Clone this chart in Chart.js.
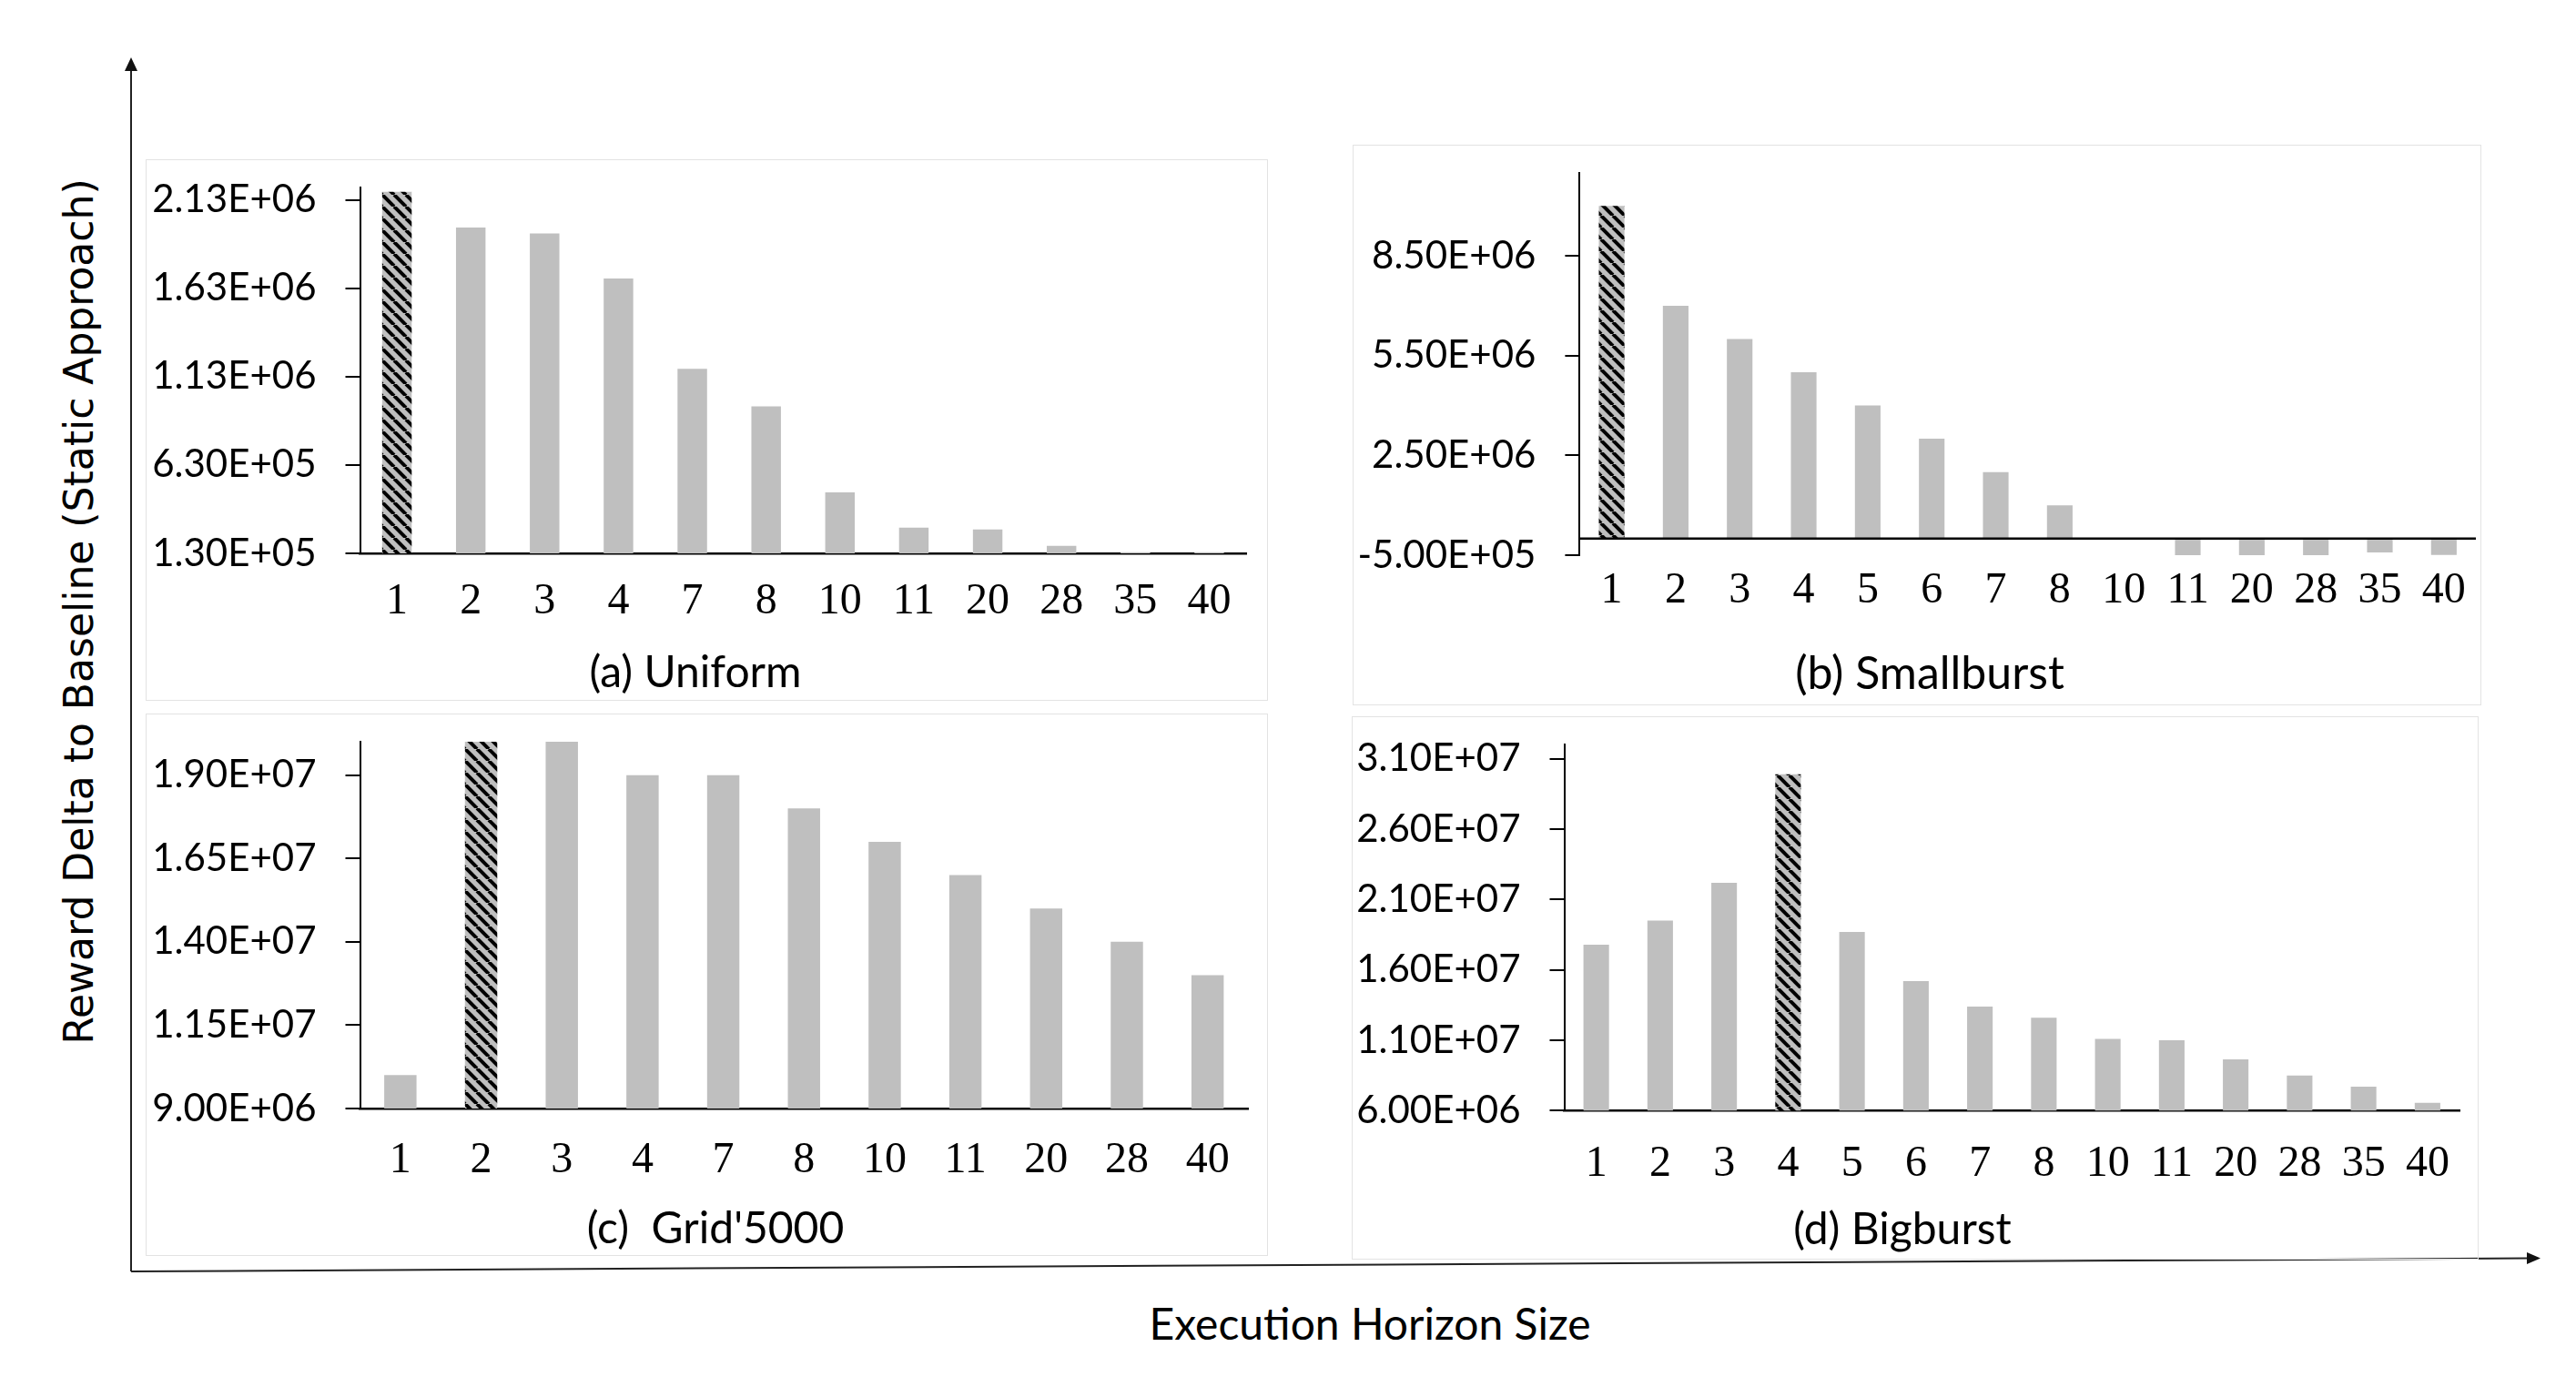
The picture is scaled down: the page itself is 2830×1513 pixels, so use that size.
<!DOCTYPE html>
<html>
<head>
<meta charset="utf-8">
<script src="https://cdn.jsdelivr.net/npm/chart.js@4.4.1/dist/chart.umd.min.js"></script>
<style>
  html, body { margin: 0; padding: 0; background: #fff; }
  body { width: 2830px; height: 1513px; position: relative; overflow: hidden; }
  .panel { position: absolute; box-sizing: border-box; border: 1.5px solid #e3e3e3; }
  canvas.chart { position: absolute; }
  .label { position: absolute; transform: translate(-50%, -50%); white-space: pre; line-height: 1; color: #000; font-family: Lato, sans-serif; }
  #ytitle { font-family: "DejaVu Sans", sans-serif; font-size: 44px; transform: translate(-50%, -50%) rotate(-90deg); }
</style>
</head>
<body>
<svg width="2830" height="1513" style="position:absolute;left:0;top:0">
  <line x1="144" y1="1397" x2="144" y2="74" stroke="#222" stroke-width="2"/>
  <polygon points="144,63 137,78 151,78" fill="#111"/>
  <line x1="144" y1="1397" x2="2778" y2="1382.6" stroke="#222" stroke-width="2"/>
  <polygon points="2791,1382.5 2776,1376 2776,1389" fill="#111"/>
</svg>
<div id="ytitle" class="label" style="left:87px;top:672px">Reward Delta to Baseline (Static Approach)</div>
<div class="label" style="left:1505px;top:1454px;font-size:48px">Execution Horizon Size</div>

<script>
const labelsA = ["1", "2", "3", "4", "7", "8", "10", "11", "20", "28", "35", "40"];
const valuesA = [2.176e6, 1.974e6, 1.94e6, 1.685e6, 1.174e6, 0.962e6, 0.475e6, 0.275e6, 0.265e6, 0.172e6, 0.137e6, 0.136e6];
const ticksA = [1.3e5, 6.3e5, 1.13e6, 1.63e6, 2.13e6];

const labelsB = ["1", "2", "3", "4", "5", "6", "7", "8", "10", "11", "20", "28", "35", "40"];
const valuesB = [1.0e7, 7.0e6, 6.0e6, 5.0e6, 4.0e6, 3.0e6, 2.0e6, 1.0e6, 0, -5.0e5, -5.0e5, -5.0e5, -4.2e5, -4.9e5];
const ticksB = [-5e5, 2.5e6, 5.5e6, 8.5e6];

const labelsC = ["1", "2", "3", "4", "7", "8", "10", "11", "20", "28", "40"];
const valuesC = [1.0e7, 2.0e7, 2.0e7, 1.9e7, 1.9e7, 1.8e7, 1.7e7, 1.6e7, 1.5e7, 1.4e7, 1.3e7];
const ticksC = [9e6, 1.15e7, 1.4e7, 1.65e7, 1.9e7];

const labelsD = ["1", "2", "3", "4", "5", "6", "7", "8", "10", "11", "20", "28", "35", "40"];
const valuesD = [1.78e7, 1.95e7, 2.22e7, 2.99e7, 1.87e7, 1.52e7, 1.34e7, 1.26e7, 1.11e7, 1.10e7, 9.65e6, 8.5e6, 7.7e6, 6.55e6];
const ticksD = [6e6, 1.1e7, 1.6e7, 2.1e7, 2.6e7, 3.1e7];

const panels = [
  { box: [160, 175, 1233, 595], yW: 235.5, padR: 24, padT: 31, xH: 162, labelPad: 25,
    labels: labelsA, values: valuesA, ticks: ticksA, min: 1.3e5, max: 2.2e6, hi: 0,
    title: "(a) Uniform", titleAt: [764, 737], titleSize: 48, zero: false },
  { box: [1486, 159, 1240, 616], yW: 249.4, padR: 6, padT: 30.7, xH: 165, labelPad: 11,
    labels: labelsB, values: valuesB, ticks: ticksB, min: -5e5, max: 1.1e7, hi: 0,
    title: "(b) Smallburst", titleAt: [2120, 738], titleSize: 50, zero: true },
  { box: [160, 783.5, 1233, 596], yW: 235.5, padR: 22, padT: 31.1, xH: 162, labelPad: 29,
    labels: labelsC, values: valuesC, ticks: ticksC, min: 9e6, max: 2.0e7, hi: 1,
    title: "(c)  Grid'5000", titleAt: [786, 1348], titleSize: 48, zero: false },
  { box: [1485, 787, 1238, 597], yW: 233.5, padR: 21, padT: 31.4, xH: 163.7, labelPad: 30,
    labels: labelsD, values: valuesD, ticks: ticksD, min: 6e6, max: 3.2e7, hi: 3,
    title: "(d) Bigburst", titleAt: [2090, 1349], titleSize: 48, zero: false },
];

function hatchPattern() {
  const c = document.createElement("canvas");
  c.width = 13;
  c.height = 13;
  const g = c.getContext("2d");
  g.fillStyle = "#BFBFBF";
  g.fillRect(0, 0, 13, 13);
  g.strokeStyle = "#000";
  g.lineWidth = 4;
  for (const o of [-13, 0, 13]) {
    g.beginPath();
    g.moveTo(o, 0);
    g.lineTo(o + 13, 13);
    g.stroke();
  }
  return g.createPattern(c, "repeat");
}

function sci(v) {
  return v.toExponential(2).toUpperCase().replace(/E([+-])(\d)$/, "E$10$2");
}

// x axis line at zero for the panel with negative bars
const zeroLine = {
  id: "zeroLine",
  afterDatasetsDraw(chart) {
    const y = chart.scales.y.getPixelForValue(0);
    const ctx = chart.ctx;
    ctx.save();
    ctx.strokeStyle = "#000";
    ctx.lineWidth = 2.5;
    ctx.beginPath();
    ctx.moveTo(chart.chartArea.left, y);
    ctx.lineTo(chart.chartArea.right, y);
    ctx.stroke();
    ctx.restore();
  },
};

const hatch = hatchPattern();

panels.forEach(function (p) {
  const [left, top, w, h] = p.box;

  const box = document.createElement("div");
  box.className = "panel";
  box.style.cssText = `left:${left}px;top:${top}px;width:${w}px;height:${h}px`;
  document.body.appendChild(box);

  const canvas = document.createElement("canvas");
  canvas.className = "chart";
  canvas.width = w;
  canvas.height = h;
  canvas.style.cssText = `left:${left}px;top:${top}px;width:${w}px;height:${h}px`;
  document.body.appendChild(canvas);

  const title = document.createElement("div");
  title.className = "label";
  title.textContent = p.title;
  title.style.cssText = `left:${p.titleAt[0]}px;top:${p.titleAt[1]}px;font-size:${p.titleSize}px`;
  document.body.appendChild(title);

  new Chart(canvas, {
    type: "bar",
    data: {
      labels: p.labels,
      datasets: [
        {
          data: p.values,
          backgroundColor: (ctx) => (ctx.dataIndex === p.hi ? hatch : "#BFBFBF"),
          borderWidth: 0,
          barPercentage: 1,
          categoryPercentage: 0.4,
        },
      ],
    },
    options: {
      responsive: false,
      animation: false,
      layout: { padding: { left: 0, right: p.padR, top: p.padT, bottom: 0 } },
      plugins: { legend: { display: false }, tooltip: { enabled: false } },
      scales: {
        x: {
          offset: true,
          grid: { display: false, drawTicks: false, tickLength: 0 },
          border: { display: !p.zero, color: "#000", width: 2.5 },
          ticks: {
            color: "#000",
            padding: p.labelPad,
            maxRotation: 0,
            autoSkip: false,
            font: { family: "Liberation Serif", size: 48 },
          },
          afterFit: (scale) => {
            scale.height = p.xH;
            scale.paddingLeft = 0;
            scale.paddingRight = 0;
          },
        },
        y: {
          min: p.min,
          max: p.max,
          grid: { display: true, drawOnChartArea: false, drawTicks: true, tickLength: 16, tickColor: "#000", lineWidth: 2 },
          border: { display: true, color: "#000", width: 2 },
          ticks: {
            color: "#000",
            padding: 32,
            font: { family: "Lato", size: 42 },
            callback: (v) => sci(v),
          },
          afterBuildTicks: (scale) => {
            scale.ticks = p.ticks.map((v) => ({ value: v }));
          },
          afterFit: (scale) => {
            scale.width = p.yW;
            scale.paddingTop = 0;
            scale.paddingBottom = 0;
          },
        },
      },
    },
    plugins: p.zero ? [zeroLine] : [],
  });
});
</script>
</body>
</html>
